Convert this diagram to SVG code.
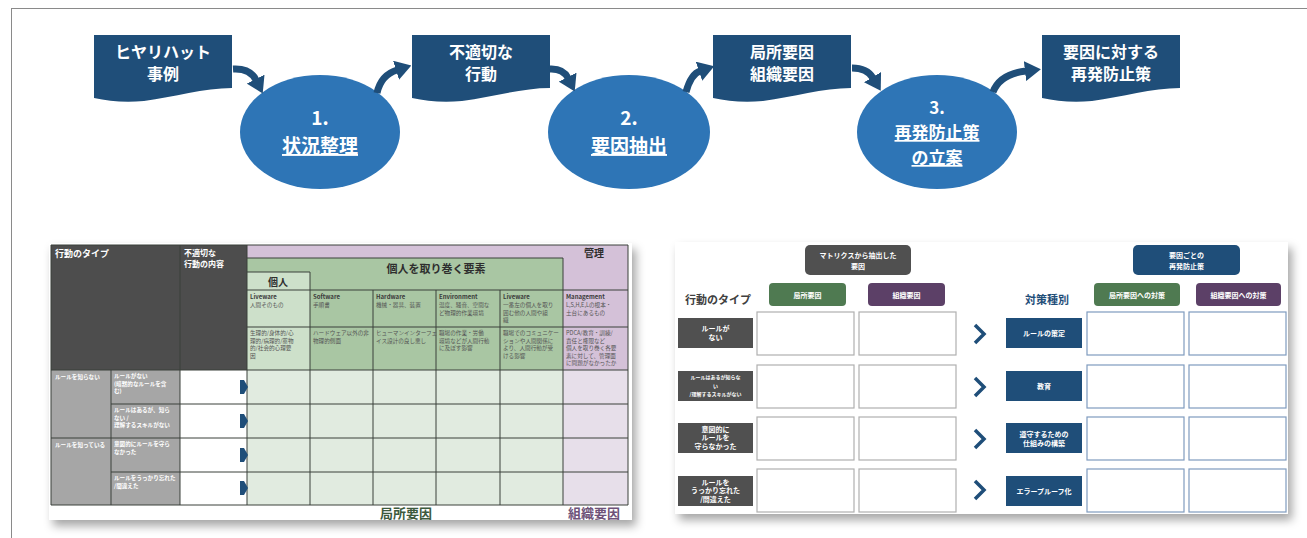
<svg xmlns="http://www.w3.org/2000/svg" width="1307" height="538" viewBox="0 0 1307 538">
<defs>
<style>
text{font-family:"Noto Sans CJK JP","Noto Sans",sans-serif;}
.doc{fill:#1f4e79;}
.ell{fill:#2e75b6;}
.wt{fill:#fff;font-weight:bold;text-anchor:middle;}
.bx{font-size:16px;}
.el{font-size:19px;}
.el3{font-size:17px;}
.ul{text-decoration:underline;}
.arr{fill:none;stroke:#1f4e79;stroke-width:7;marker-end:url(#ah);}
.g{stroke:#3a403a;stroke-width:1;fill:none;}
.hw{fill:#fff;font-weight:bold;}
.tt{font-size:6px;fill:#3a3a3a;font-weight:bold;}
.td{font-size:5.6px;fill:#555;}
.rw{font-size:5.6px;fill:#fff;font-weight:bold;}
.lab{fill:#505050;}
.nav{fill:#1f4e79;}
.wb{fill:#fff;stroke:#b0b0b0;stroke-width:1.2;}
.wb2{fill:#fff;stroke:#7f9bbf;stroke-width:1.2;}
.bt{fill:#fff;font-weight:bold;text-anchor:middle;font-size:7px;}
.bs{font-size:5px;}
.chev{fill:none;stroke:#1f4e79;stroke-width:3.5;}
.bm{fill:#1f4e79;}
</style>
<marker id="ah" markerUnits="userSpaceOnUse" viewBox="0 0 16 20" refX="1" refY="10" markerWidth="16" markerHeight="20" orient="auto"><path d="M0,0 L16,10 L0,20 z" fill="#1f4e79"/></marker>
<path id="docshape" d="M0,0 H138 V53 C110,53 80,62 50,66 C30,68 15,66 0,63 Z"/>
<filter id="sh" x="-5%" y="-5%" width="115%" height="125%"><feDropShadow dx="4" dy="6" stdDeviation="5" flood-color="#000" flood-opacity="0.35"/></filter>
</defs>
<rect width="1307" height="538" fill="#fff"/>
<rect x="11.5" y="8.5" width="1310" height="545" fill="none" stroke="#8a8a8a" stroke-width="1"/>

<!-- top flow -->
<g id="box1"><use href="#docshape" class="doc" transform="translate(94,35)"/><text class="wt bx" x="163" y="58">ヒヤリハット</text><text class="wt bx" x="163" y="80">事例</text></g>
<g id="ell1"><ellipse class="ell" cx="320" cy="132" rx="80" ry="57"/><text class="wt el" x="320" y="125">1.</text><text class="wt el ul" x="320" y="153">状況整理</text></g>
<g id="box2"><use href="#docshape" class="doc" transform="translate(412,35)"/><text class="wt bx" x="481" y="58">不適切な</text><text class="wt bx" x="481" y="80">行動</text></g>
<g id="ell2"><ellipse class="ell" cx="629" cy="132" rx="81" ry="57"/><text class="wt el" x="629" y="125">2.</text><text class="wt el ul" x="629" y="153">要因抽出</text></g>
<g id="box3"><use href="#docshape" class="doc" transform="translate(713,35)"/><text class="wt bx" x="782" y="58">局所要因</text><text class="wt bx" x="782" y="80">組織要因</text></g>
<g id="ell3"><ellipse class="ell" cx="937" cy="132" rx="80" ry="57"/><text class="wt el3" x="937" y="114">3.</text><text class="wt el3 ul" x="937" y="139">再発防止策</text><text class="wt el3 ul" x="937" y="164">の立案</text></g>
<g id="box4"><use href="#docshape" class="doc" transform="translate(1042,35)"/><text class="wt bx" x="1111" y="58">要因に対する</text><text class="wt bx" x="1111" y="80">再発防止策</text></g>

<g id="connectors">
<path class="arr" d="M233,69 Q250,68 256,80"/>
<path class="arr" d="M377,93 Q381,75 397,70"/>
<path class="arr" d="M549,69 Q563,68 568,78"/>
<path class="arr" d="M686,92 Q691,74 700,71"/>
<path class="arr" d="M852,68 Q867,68 873,78"/>
<path class="arr" d="M993,92 Q1000,74 1026,71"/>
</g>

<!-- left table -->
<g id="matrix">
<rect x="49" y="243" width="583" height="277" fill="#fff" filter="url(#sh)"/>
<rect x="51" y="245" width="196" height="125" fill="#4d4d4d"/>
<rect x="247" y="245" width="381" height="13" fill="#d4c1d8"/>
<rect x="563" y="258" width="65" height="112" fill="#d4c1d8"/>
<rect x="247" y="258" width="316" height="112" fill="#a9c6a3"/>
<rect x="247" y="272" width="63" height="98" fill="#cde0ca"/>
<rect x="51" y="370" width="129" height="135" fill="#a6a6a6"/>
<rect x="180" y="370" width="67" height="135" fill="#fff"/>
<rect x="247" y="370" width="316" height="135" fill="#e1ebe0"/>
<rect x="563" y="370" width="65" height="135" fill="#e7dfea"/>
<path class="g" d="M51,245 H628 V505 H51 Z M180,245 V505 M247,245 V505 M111,370 V505 M310,272 V505 M373,290 V505 M436,290 V505 M500,290 V505 M563,258 V505 M247,258 H563 M247,272 H310 M247,290 H628 M247,327 H628 M51,370 H628 M111,404 H628 M51,438 H628 M111,472 H628"/>
<g class="bm">
<path d="M240,380 H244 L248,387 L244,394 H240 Z"/>
<path d="M240,414 H244 L248,421 L244,428 H240 Z"/>
<path d="M240,448 H244 L248,455 L244,462 H240 Z"/>
<path d="M240,481 H244 L248,488 L244,495 H240 Z"/>
</g>
<text class="hw" x="55" y="257" font-size="9">行動のタイプ</text>
<text class="hw" x="184" y="256" font-size="8">不適切な</text>
<text class="hw" x="184" y="267" font-size="8">行動の内容</text>
<text x="436" y="273" font-size="11" font-weight="bold" fill="#2e2e2e" text-anchor="middle">個人を取り巻く要素</text>
<text x="278" y="286" font-size="10" font-weight="bold" fill="#2e2e2e" text-anchor="middle">個人</text>
<text x="594" y="257" font-size="10" font-weight="bold" fill="#2e2e2e" text-anchor="middle">管理</text>
<text class="tt" x="250" y="299">Liveware</text><text class="td" x="250" y="307">人間そのもの</text>
<text class="tt" x="313" y="299">Software</text><text class="td" x="313" y="307">手順書</text>
<text class="tt" x="376" y="299">Hardware</text><text class="td" x="376" y="307">機械・器具、装置</text>
<text class="tt" x="439" y="299">Environment</text><text class="td" x="439" y="307">温度、騒音、空間な</text><text class="td" x="439" y="314.5">ど物理的作業環境</text>
<text class="tt" x="503" y="299">Liveware</text><text class="td" x="503" y="307">一番左の個人を取り</text><text class="td" x="503" y="314.5">囲む他の人間や組</text><text class="td" x="503" y="322">織</text>
<text class="tt" x="566" y="299">Management</text><text class="td" x="566" y="307">L,S,H,E,Lの根本・</text><text class="td" x="566" y="314.5">土台にあるもの</text>
<text class="td" x="250" y="335">生理的/身体的/心</text><text class="td" x="250" y="342.5">理的/病理的/薬物</text><text class="td" x="250" y="350">的/社会的心理要</text><text class="td" x="250" y="357.5">因</text>
<text class="td" x="313" y="335">ハードウェア以外の非</text><text class="td" x="313" y="342.5">物理的側面</text>
<text class="td" x="376" y="335">ヒューマンインターフェ</text><text class="td" x="376" y="342.5">イス設計の良し悪し</text>
<text class="td" x="439" y="335">職場の作業・労働</text><text class="td" x="439" y="342.5">環境などが人間行動</text><text class="td" x="439" y="350">に及ぼす影響</text>
<text class="td" x="503" y="335">職場でのコミュニケー</text><text class="td" x="503" y="342.5">ションや人間関係に</text><text class="td" x="503" y="350">より、人間行動が受</text><text class="td" x="503" y="357.5">ける影響</text>
<text class="td" x="566" y="335">PDCA/教育・訓練/</text><text class="td" x="566" y="342.5">責任と権限など</text><text class="td" x="566" y="350">個人を取り巻く各要</text><text class="td" x="566" y="357.5">素に対して、管理面</text><text class="td" x="566" y="365">に問題がなかったか</text>
<text class="rw" x="55" y="379">ルールを知らない</text>
<text class="rw" x="55" y="447">ルールを知っている</text>
<text class="rw" x="114" y="378">ルールがない</text><text class="rw" x="114" y="385.5">(暗黙的なルールを含</text><text class="rw" x="114" y="393">む)</text>
<text class="rw" x="114" y="412">ルールはあるが、知ら</text><text class="rw" x="114" y="419.5">ない /</text><text class="rw" x="114" y="427">理解するスキルがない</text>
<text class="rw" x="114" y="446">意図的にルールを守ら</text><text class="rw" x="114" y="453.5">なかった</text>
<text class="rw" x="114" y="480">ルールをうっかり忘れた</text><text class="rw" x="114" y="487.5">/間違えた</text>
<text x="406" y="518" font-size="13" font-weight="bold" fill="#3d5a3d" text-anchor="middle">局所要因</text>
<text x="594" y="518" font-size="13" font-weight="bold" fill="#6e5279" text-anchor="middle">組織要因</text>
</g>

<!-- right panel -->
<g id="plan">
<rect x="675" y="242" width="613" height="272" fill="#fff" filter="url(#sh)"/>
<rect x="805" y="245" width="106" height="30" rx="5" fill="#505050"/>
<text class="bt" x="858" y="258" font-size="7.5">マトリクスから抽出した</text><text class="bt" x="858" y="269">要因</text>
<rect x="1133" y="245" width="107" height="30" rx="5" fill="#1f4e79"/>
<text class="bt" x="1186.5" y="258">要因ごとの</text><text class="bt" x="1186.5" y="269">再発防止策</text>
<text x="718" y="304" font-size="11" font-weight="bold" fill="#404040" text-anchor="middle">行動のタイプ</text>
<text x="1047" y="304" font-size="11" font-weight="bold" fill="#1f4e79" text-anchor="middle">対策種別</text>
<rect x="769" y="283" width="77" height="23" rx="4" fill="#4f7a51"/><text class="bt" x="807.5" y="297.5" font-size="8">局所要因</text>
<rect x="868" y="283" width="77" height="23" rx="4" fill="#5c4067"/><text class="bt" x="906.5" y="297.5" font-size="8">組織要因</text>
<rect x="1094" y="283" width="86" height="23" rx="4" fill="#4f7a51"/><text class="bt" x="1137" y="297.5" font-size="8">局所要因への対策</text>
<rect x="1196" y="283" width="85" height="23" rx="4" fill="#5c4067"/><text class="bt" x="1238.5" y="297.5" font-size="8">組織要因への対策</text>

<rect class="lab" x="678" y="318" width="75" height="30"/><text class="bt" x="715.5" y="331">ルールが</text><text class="bt" x="715.5" y="340">ない</text>
<rect class="lab" x="678" y="371" width="75" height="30"/><text class="bt bs" x="715.5" y="379">ルールはあるが知らな</text><text class="bt bs" x="715.5" y="387.5">い</text><text class="bt bs" x="715.5" y="396">/理解するスキルがない</text>
<rect class="lab" x="678" y="423" width="75" height="30"/><text class="bt" x="715.5" y="431.5">意図的に</text><text class="bt" x="715.5" y="440">ルールを</text><text class="bt" x="715.5" y="448.5">守らなかった</text>
<rect class="lab" x="678" y="476" width="75" height="30"/><text class="bt" x="715.5" y="484.5">ルールを</text><text class="bt" x="715.5" y="493">うっかり忘れた</text><text class="bt" x="715.5" y="501.5">/間違えた</text>

<rect class="wb" x="757" y="312" width="97" height="43"/><rect class="wb" x="859" y="312" width="97" height="43"/>
<rect class="wb" x="757" y="365" width="97" height="43"/><rect class="wb" x="859" y="365" width="97" height="43"/>
<rect class="wb" x="757" y="417" width="97" height="43"/><rect class="wb" x="859" y="417" width="97" height="43"/>
<rect class="wb" x="757" y="469" width="97" height="43"/><rect class="wb" x="859" y="469" width="97" height="43"/>

<path class="chev" d="M975,325 L984,334 L975,343"/>
<path class="chev" d="M975,378 L984,387 L975,396"/>
<path class="chev" d="M975,430 L984,439 L975,448"/>
<path class="chev" d="M975,481 L984,490 L975,499"/>

<rect class="nav" x="1006" y="318" width="76" height="30"/><text class="bt" x="1044" y="336">ルールの策定</text>
<rect class="nav" x="1006" y="371" width="76" height="30"/><text class="bt" x="1044" y="389">教育</text>
<rect class="nav" x="1006" y="423" width="76" height="30"/><text class="bt" x="1044" y="436.5">遵守するための</text><text class="bt" x="1044" y="446">仕組みの構築</text>
<rect class="nav" x="1006" y="476" width="76" height="30"/><text class="bt" x="1044" y="494" font-size="7.5">エラープルーフ化</text>

<rect class="wb2" x="1087" y="312" width="97" height="43"/><rect class="wb2" x="1189" y="312" width="97" height="43"/>
<rect class="wb2" x="1087" y="365" width="97" height="43"/><rect class="wb2" x="1189" y="365" width="97" height="43"/>
<rect class="wb2" x="1087" y="417" width="97" height="43"/><rect class="wb2" x="1189" y="417" width="97" height="43"/>
<rect class="wb2" x="1087" y="469" width="97" height="43"/><rect class="wb2" x="1189" y="469" width="97" height="43"/>
</g>
</svg>
